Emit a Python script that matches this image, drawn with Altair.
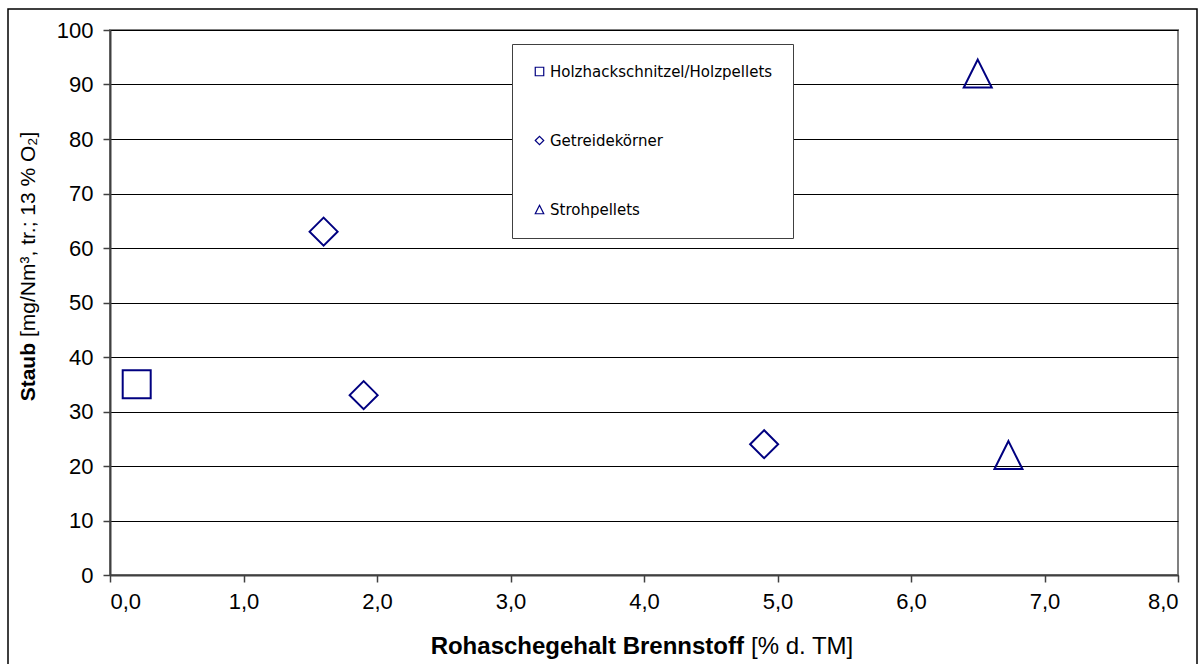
import altair as alt
import pandas as pd

# ---- data ----
fuel = ["Holzhackschnitzel/Holzpellets", "Getreidekörner", "Getreidekörner",
        "Getreidekörner", "Strohpellets", "Strohpellets"]
ash = [0.2, 1.6, 1.9, 4.9, 6.5, 6.73]
dust = [35, 63, 33, 24, 92, 22]

series = ["Holzhackschnitzel/Holzpellets", "Getreidekörner", "Strohpellets"]
shapes = ["square", "diamond", "M0,-1L1,1L-1,1Z"]

x_ticks = [0, 1, 2, 3, 4, 5, 6, 7, 8]
y_ticks = [0, 10, 20, 30, 40, 50, 60, 70, 80, 90, 100]

x_title_bold = "Rohaschegehalt Brennstoff"
x_title_rest = "[% d. TM]"
y_title_bold = "Staub"
y_title_rest = "[mg/Nm³, tr.; 13 % O₂]"

df = pd.DataFrame({"Brennstoff": fuel, "Asche": ash, "Staub": dust})

W, H = 1068, 545
NAVY = "#000080"
FONT = "Liberation Sans"

points = alt.Chart(df).mark_point(
    filled=False, size=784, strokeWidth=2, color=NAVY, opacity=1
).encode(
    x=alt.X("Asche:Q",
            scale=alt.Scale(domain=[0, 8], nice=False, zero=False),
            axis=alt.Axis(values=x_ticks, grid=False, title=None,
                          labelExpr="replace(format(datum.value, '.1f'), '.', ',')",
                          labelPadding=9)),
    y=alt.Y("Staub:Q",
            scale=alt.Scale(domain=[0, 100], nice=False),
            axis=alt.Axis(values=y_ticks, grid=True, title=None,
                          labelPadding=10)),
    shape=alt.Shape("Brennstoff:N",
                    scale=alt.Scale(domain=series, range=shapes),
                    legend=alt.Legend(
                        orient="none", legendX=402, legendY=14, title=None,
                        padding=20, strokeColor="#404040", fillColor="white",
                        symbolSize=72, symbolStrokeWidth=1.2,
                        symbolStrokeColor=NAVY, symbolFillColor="transparent",
                        labelFont="DejaVu Sans", labelFontSize=15,
                        labelColor="black", labelLimit=400, labelOffset=3,
                        rowPadding=53)),
)

one = alt.Data(values=[{}])

border = alt.Chart(one).mark_rect(
    fill="white", fillOpacity=0, stroke="black", strokeWidth=1.5
).encode(x=alt.value(-102), x2=alt.value(1087), y=alt.value(-21), y2=alt.value(680))

xt_b = alt.Chart(one).mark_text(
    text=x_title_bold, font=FONT, fontSize=24, fontWeight="bold",
    align="right", baseline="alphabetic", color="black"
).encode(x=alt.value(634), y=alt.value(624))
xt_r = alt.Chart(one).mark_text(
    text=x_title_rest, font=FONT, fontSize=24, fontWeight="normal",
    align="left", baseline="alphabetic", color="black"
).encode(x=alt.value(641), y=alt.value(624))

yt_b = alt.Chart(one).mark_text(
    text=y_title_bold, font=FONT, fontSize=21, fontWeight="bold", angle=270,
    align="right", baseline="middle", color="black"
).encode(x=alt.value(-81), y=alt.value(313))
yt_r = alt.Chart(one).mark_text(
    text=y_title_rest, font=FONT, fontSize=21, fontWeight="normal", angle=270,
    align="left", baseline="middle", color="black"
).encode(x=alt.value(-81), y=alt.value(307))

chart = alt.layer(border, points, xt_b, xt_r, yt_b, yt_r).properties(
    width=W, height=H,
    padding={"left": 110, "top": 30, "right": 25, "bottom": 89},
    autosize="none",
    background="white",
).configure_view(
    stroke="#808080", strokeWidth=2
).configure_axis(
    labelFont=FONT, labelFontSize=22, labelColor="black",
    domainColor="#404040", domainWidth=2,
    tickColor="#404040", tickWidth=1.5, tickSize=7,
    gridColor="black", gridWidth=1, gridOpacity=1,
)

chart.save("out.html", embed_options={"renderer": "svg", "actions": False})
